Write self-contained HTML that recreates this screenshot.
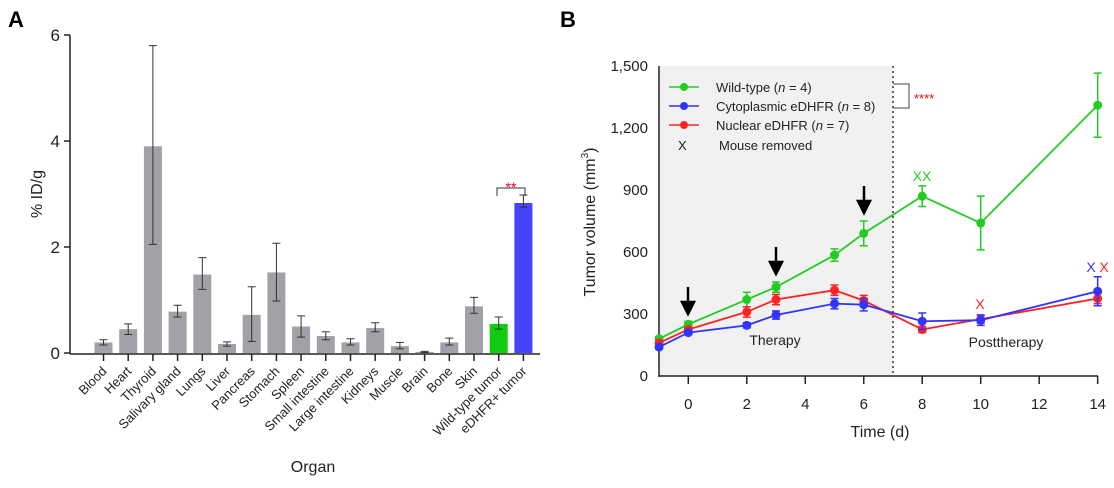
<!DOCTYPE html><html><head><style>body{margin:0;background:#fff}svg{display:block;font-family:"Liberation Sans",Arial,sans-serif}</style></head><body>
<svg width="1114" height="488" viewBox="0 0 1114 488" xmlns="http://www.w3.org/2000/svg">
<text x="8" y="27" font-size="22" font-weight="bold">A</text>
<text x="560" y="27" font-size="22" font-weight="bold">B</text>
<g id="A" stroke="#222" stroke-width="1.5" fill="none">
<line x1="70" y1="35" x2="70" y2="354"/>
<line x1="70" y1="354" x2="540" y2="354"/>
<line x1="64" y1="35" x2="70" y2="35"/><line x1="64" y1="141" x2="70" y2="141"/><line x1="64" y1="247" x2="70" y2="247"/><line x1="64" y1="353" x2="70" y2="353"/>
</g>
<g font-size="17" text-anchor="end" fill="#222"><text x="60" y="41">6</text><text x="60" y="147">4</text><text x="60" y="253">2</text><text x="60" y="359">0</text></g>
<text transform="translate(42,194) rotate(-90)" font-size="16" text-anchor="middle" fill="#222">% ID/g</text>
<text x="313" y="472" font-size="16" text-anchor="middle" fill="#222">Organ</text>
<g id="bars"></g>
<path d="M497,196 V188 H525 V196" stroke="#333" fill="none"/>
<text x="511" y="192" font-size="14" fill="red" text-anchor="middle">**</text>
<g id="B">
<rect x="659" y="66" width="234" height="310" fill="#f1f1f1"/>
<line x1="893" y1="66" x2="893" y2="376" stroke="#333" stroke-width="1.5" stroke-dasharray="2,3"/>
<g stroke="#222" stroke-width="1.5"><line x1="659" y1="66" x2="659" y2="377"/><line x1="659" y1="376" x2="1098" y2="376"/></g>
</g>
<g font-size="15" text-anchor="end" fill="#222"><text x="648" y="71">1,500</text><text x="648" y="133">1,200</text><text x="648" y="195">900</text><text x="648" y="257">600</text><text x="648" y="319">300</text><text x="648" y="381">0</text></g>
<text transform="translate(595,222) rotate(-90)" font-size="16" text-anchor="middle" fill="#222">Tumor volume (mm<tspan font-size="10" dy="-7">3</tspan><tspan dy="7">)</tspan></text>
<text x="880" y="437" font-size="16" text-anchor="middle" fill="#222">Time (d)</text>
<text x="775" y="345" font-size="14" text-anchor="middle" fill="#222">Therapy</text>
<text x="1006" y="347" font-size="14" text-anchor="middle" fill="#222">Posttherapy</text>
<g font-size="13" fill="#222">
<line x1="669" y1="87" x2="699" y2="87" stroke="#2c2" stroke-width="1.5"/><circle cx="684" cy="87" r="4" fill="#2c2"/>
<line x1="669" y1="106" x2="699" y2="106" stroke="#33f" stroke-width="1.5"/><circle cx="684" cy="106" r="4" fill="#33f"/>
<line x1="669" y1="125" x2="699" y2="125" stroke="#f22" stroke-width="1.5"/><circle cx="684" cy="125" r="4" fill="#f22"/>
<text x="716" y="92">Wild-type (<tspan font-style="italic">n</tspan> = 4)</text>
<text x="716" y="111">Cytoplasmic eDHFR (<tspan font-style="italic">n</tspan> = 8)</text>
<text x="716" y="130">Nuclear eDHFR (<tspan font-style="italic">n</tspan> = 7)</text>
<text x="678" y="150">X</text><text x="719" y="150">Mouse removed</text>
</g>
<path d="M893,84 H909 V108 H893" stroke="#444" fill="none"/>
<text x="914" y="103" font-size="13" fill="red">****</text>
<g id="series"></g>
<g font-size="14" text-anchor="middle">
<text x="922" y="181" fill="#2c2">XX</text>
<text x="980" y="309" fill="#f22">X</text>
<text x="1091" y="272" fill="#33f">X</text><text x="1104" y="272" fill="#f22">X</text>
</g>
<g stroke="#000" stroke-width="2.5" fill="#000">
<line x1="688" y1="287" x2="688" y2="305"/><path d="M682,302 L694,302 L688,314Z"/>
<line x1="776" y1="247" x2="776" y2="265"/><path d="M770,262 L782,262 L776,274Z"/>
<line x1="864" y1="186" x2="864" y2="204"/><path d="M858,201 L870,201 L864,213Z"/>
</g>
<g font-size="15" text-anchor="middle" fill="#222" id="xt"></g>
<script>
var ns="http://www.w3.org/2000/svg";
function el(p,t,a,txt){var e=document.createElementNS(ns,t);for(var k in a)e.setAttribute(k,a[k]);if(txt!==undefined)e.textContent=String(txt);document.getElementById(p).appendChild(e);return e;}
var d=[["Blood",.2,.15,.25],["Heart",.45,.35,.55],["Thyroid",3.9,2.05,5.8],["Salivary gland",.78,.68,.9],["Lungs",1.48,1.2,1.8],["Liver",.17,.13,.21],["Pancreas",.72,.22,1.25],["Stomach",1.52,.98,2.07],["Spleen",.5,.3,.7],["Small intestine",.32,.25,.4],["Large intestine",.2,.15,.27],["Kidneys",.47,.4,.57],["Muscle",.13,.08,.2],["Brain",.02,.01,.03],["Bone",.2,.15,.28],["Skin",.88,.75,1.05],["Wild-type tumor",.55,.45,.68],["eDHFR+ tumor",2.83,2.75,2.98]];
function Y(v){return 353-v*53;}
d.forEach(function(r,i){var x=103.5+i*24.7;var c=i==16?"#1c1":i==17?"#44f":"#a2a1a8";
el("bars","rect",{x:x-9,y:Y(r[1]),width:18,height:353-Y(r[1]),fill:c});
el("bars","path",{d:"M"+x+","+Y(r[2])+"V"+Y(r[3])+"M"+(x-4)+","+Y(r[2])+"h8M"+(x-4)+","+Y(r[3])+"h8",stroke:"#333","stroke-width":1,fill:"none"});
el("bars","line",{x1:x,y1:354,x2:x,y2:361,stroke:"#222","stroke-width":1.5});
el("bars","text",{transform:"translate("+(x+4)+",372) rotate(-45)","text-anchor":"end","font-size":13,fill:"#222"},r[0]);});
function BX(t){return 688.3+t*29.24;}function BY(v){return 376-v*0.2067;}
var days=[-1,0,2,3,5,6,8,10,14];
var S=[["#2c2",[180,250,370,430,585,690,870,740,1310],[10,15,35,25,30,60,50,130,155]],
["#f22",[160,225,310,370,415,365,225,275,375],[10,10,25,25,25,25,15,20,25]],
["#33f",[140,210,245,295,350,345,265,270,410],[10,10,12,20,25,30,40,25,70]]];
S.forEach(function(s){var p="";days.forEach(function(t,i){p+=(i?"L":"M")+BX(t)+","+BY(s[1][i]);});
el("series","path",{d:p,stroke:s[0],"stroke-width":1.8,fill:"none"});
days.forEach(function(t,i){var x=BX(t),a=BY(s[1][i]-s[2][i]),b=BY(s[1][i]+s[2][i]);
el("series","path",{d:"M"+x+","+a+"V"+b+"M"+(x-4)+","+a+"h8M"+(x-4)+","+b+"h8",stroke:s[0],"stroke-width":1.5,fill:"none"});
el("series","circle",{cx:x,cy:BY(s[1][i]),r:4.5,fill:s[0]});});});
for(var t=0;t<=14;t+=2){el("xt","line",{x1:BX(t),y1:376,x2:BX(t),y2:384,stroke:"#222","stroke-width":1.5});el("xt","text",{x:BX(t),y:409},t);}
</script>
</svg></body></html>
